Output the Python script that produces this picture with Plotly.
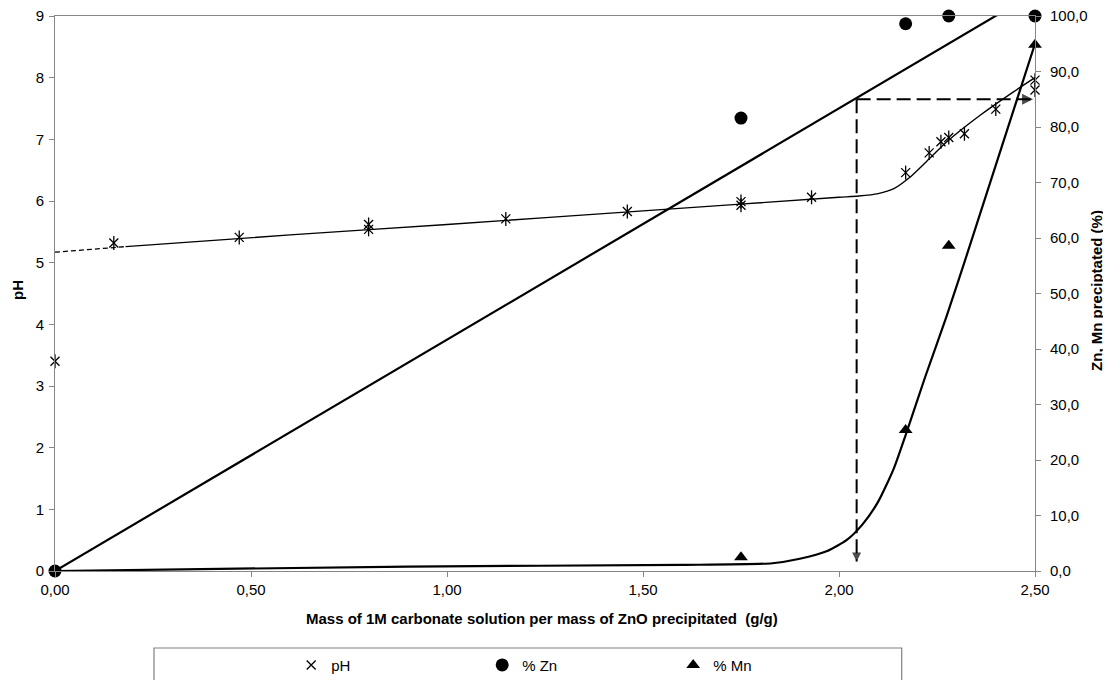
import plotly.graph_objects as go

# ---------------- data ----------------
# pH measurements (left axis)
ph_x = [0.00, 0.15, 0.47, 0.80, 0.80, 1.15, 1.46, 1.75, 1.75, 1.93,
        2.17, 2.23, 2.26, 2.28, 2.32, 2.40, 2.50, 2.50]
ph_y = [3.40, 5.32, 5.41, 5.62, 5.54, 5.71, 5.83, 5.99, 5.93, 6.06,
        6.46, 6.78, 6.96, 7.03, 7.09, 7.49, 7.96, 7.80]

# pH fitted curve (dashed extrapolation + solid fit)
ph_dash_x = [0.00, 0.18]
ph_dash_y = [5.17, 5.26]
ph_fit_x = [0.18, 0.60, 1.00, 1.50, 2.00, 2.05, 2.10, 2.14, 2.18, 2.22, 2.275, 2.36, 2.445, 2.50]
ph_fit_y = [5.26, 5.45, 5.62, 5.84, 6.06, 6.08, 6.12, 6.20, 6.38, 6.62, 6.96, 7.39, 7.77, 8.00]

# % Zn precipitated (right axis)
zn_x = [0.00, 1.75, 2.17, 2.28, 2.50]
zn_y = [0.0, 81.6, 98.6, 100.0, 100.0]
zn_fit_x = [0.00, 2.50]
zn_fit_y = [0.0, 104.2]

# % Mn precipitated (right axis)
mn_x = [1.75, 2.17, 2.28, 2.50]
mn_y = [2.5, 25.4, 58.6, 94.8]
mn_fit_x = [0.00, 0.90, 1.60, 1.83, 1.90, 1.97, 2.02, 2.06, 2.10, 2.14, 2.17, 2.22, 2.275, 2.33, 2.50]
mn_fit_y = [0.0, 0.8, 1.1, 1.4, 2.2, 3.6, 5.6, 8.4, 12.5, 18.5, 24.5, 35.0, 46.0, 57.8, 95.0]

# guide (dashed arrows) read-off
guide_x = 2.045
guide_level = 85.0
guide_x_end = 2.495
guide_y_end = 1.7

# tick labels
x_ticks = [0.0, 0.5, 1.0, 1.5, 2.0, 2.5]
x_ticktext = ["0,00", "0,50", "1,00", "1,50", "2,00", "2,50"]
y_ticks = [0, 1, 2, 3, 4, 5, 6, 7, 8, 9]
y2_ticks = [0, 10, 20, 30, 40, 50, 60, 70, 80, 90, 100]
y2_ticktext = ["0,0", "10,0", "20,0", "30,0", "40,0", "50,0",
               "60,0", "70,0", "80,0", "90,0", "100,0"]

FONT = "Liberation Sans, Arial, sans-serif"
BLACK = "#000000"
AXIS = "#868686"

fig = go.Figure()

# pH fit lines
fig.add_trace(go.Scatter(x=ph_dash_x, y=ph_dash_y, mode="lines",
                         line=dict(color=BLACK, width=1.3, dash="5px,3px"),
                         showlegend=False, hoverinfo="skip"))
fig.add_trace(go.Scatter(x=ph_fit_x, y=ph_fit_y, mode="lines",
                         line=dict(color=BLACK, width=1.4, shape="spline", smoothing=0.6),
                         showlegend=False, hoverinfo="skip"))

# Zn trend line
fig.add_trace(go.Scatter(x=zn_fit_x, y=zn_fit_y, yaxis="y2", mode="lines",
                         line=dict(color=BLACK, width=2.2),
                         showlegend=False, hoverinfo="skip"))
# Mn curve
fig.add_trace(go.Scatter(x=mn_fit_x, y=mn_fit_y, yaxis="y2", mode="lines",
                         line=dict(color=BLACK, width=2.2, shape="spline", smoothing=0.6),
                         showlegend=False, hoverinfo="skip"))

# guide arrows
fig.add_trace(go.Scatter(x=[guide_x, guide_x], y=[guide_level, guide_y_end], yaxis="y2",
                         mode="lines+markers",
                         line=dict(color=BLACK, width=2, dash="14px,6px"),
                         marker=dict(symbol=["circle", "arrow-down"], size=[0, 9], color=BLACK,
                                     line=dict(width=0)),
                         showlegend=False, hoverinfo="skip", cliponaxis=False))
fig.add_trace(go.Scatter(x=[guide_x, guide_x_end], y=[guide_level, guide_level], yaxis="y2",
                         mode="lines+markers",
                         line=dict(color=BLACK, width=2, dash="14px,6px"),
                         marker=dict(symbol=["circle", "arrow-right"], size=[0, 11], color=BLACK,
                                     line=dict(width=0)),
                         showlegend=False, hoverinfo="skip", cliponaxis=False))

# pH markers (star = x + vertical bar)
fig.add_trace(go.Scatter(x=ph_x, y=ph_y, mode="markers", name="pH",
                         marker=dict(symbol="x-thin-open", size=9, color=BLACK,
                                     line=dict(color=BLACK, width=1.3)),
                         cliponaxis=False, legendrank=1))
fig.add_trace(go.Scatter(x=ph_x, y=ph_y, mode="markers", showlegend=False,
                         marker=dict(symbol="line-ns-open", size=10, color=BLACK,
                                     line=dict(color=BLACK, width=1.3)),
                         cliponaxis=False, hoverinfo="skip"))

# Zn markers
fig.add_trace(go.Scatter(x=zn_x, y=zn_y, yaxis="y2", mode="markers", name="% Zn",
                         marker=dict(symbol="circle", size=13, color=BLACK),
                         cliponaxis=False, legendrank=2))
# Mn markers
fig.add_trace(go.Scatter(x=mn_x, y=mn_y, yaxis="y2", mode="markers", name="% Mn",
                         marker=dict(symbol="triangle-up", size=12, color=BLACK),
                         cliponaxis=False, legendrank=3))

fig.update_layout(
    width=1103, height=672,
    margin=dict(l=47, r=76, t=8, b=109, autoexpand=False),
    paper_bgcolor="white", plot_bgcolor="white",
    font=dict(family=FONT, size=15, color=BLACK),
    showlegend=True,
    legend=dict(orientation="h", x=0.241, xanchor="left", y=-0.14, yanchor="top",
                entrywidth=146, entrywidthmode="pixels",
                font=dict(family=FONT, size=15, color=BLACK),
                bgcolor="rgba(0,0,0,0)", borderwidth=0, itemclick=False),
    xaxis=dict(range=[0, 2.5], tickvals=x_ticks, ticktext=x_ticktext,
               showgrid=False, zeroline=False, showline=True, linecolor=AXIS,
               linewidth=1, mirror=True, ticks="outside", ticklen=5, tickcolor=AXIS,
               tickfont=dict(size=15), ticklabeloverflow="allow", automargin=False),
    yaxis=dict(range=[0, 9], tickvals=y_ticks, showgrid=False, zeroline=False,
               showline=True, linecolor=AXIS, linewidth=1, ticks="outside", ticklen=5,
               tickcolor=AXIS, tickfont=dict(size=15), ticklabelstandoff=2,
               ticklabeloverflow="allow", automargin=False),
    yaxis2=dict(range=[0, 100], tickvals=y2_ticks, ticktext=y2_ticktext,
                overlaying="y", side="right", showgrid=False, zeroline=False,
                showline=True, linecolor=AXIS, linewidth=1, ticks="outside", ticklen=5,
                tickcolor=AXIS, tickfont=dict(size=15), ticklabelstandoff=6,
                ticklabeloverflow="allow", automargin=False),
    annotations=[
        dict(text="<b>Mass of 1M carbonate solution per mass of ZnO precipitated  (g/g)</b>",
             xref="paper", yref="paper", x=0.497, y=-0.085, xanchor="center", yanchor="middle",
             showarrow=False, font=dict(size=15)),
        dict(text="<b>pH</b>", xref="paper", yref="paper", x=-0.039, y=0.506,
             xanchor="center", yanchor="middle", textangle=-90, showarrow=False,
             font=dict(size=15)),
        dict(text="<b>Zn, Mn preciptated (%)</b>", xref="paper", yref="paper", x=1.062, y=0.506,
             xanchor="center", yanchor="middle", textangle=-90, showarrow=False,
             font=dict(size=15)),
    ],
    shapes=[
        dict(type="rect", xref="paper", yref="paper", x0=0.101, x1=0.864, y0=-0.1387, y1=-0.40,
             line=dict(color="#808080", width=1.2), fillcolor="rgba(0,0,0,0)", layer="below"),
    ],
)

fig.write_html("out.html")
